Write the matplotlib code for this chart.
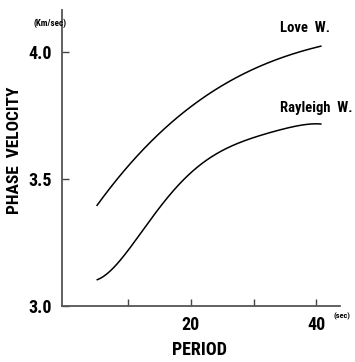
import numpy as np
import matplotlib.pyplot as plt

# curves (period in sec, phase velocity in km/sec)
love_period = [5.06, 9.25, 12.71, 14.58, 17.77, 21.48, 24.15, 29.94, 35.04, 40.73]
love_vel = [3.402, 3.520, 3.614, 3.680, 3.745, 3.811, 3.858, 3.929, 3.980, 4.025]
rayleigh_period = [5.10, 7.13, 9.25, 11.91, 14.58, 16.70, 18.82, 21.48, 22.55,
                   25.20, 27.86, 30.53, 33.17, 35.84, 40.73]
rayleigh_vel = [3.102, 3.144, 3.188, 3.280, 3.378, 3.444, 3.496, 3.548, 3.575,
                3.614, 3.647, 3.669, 3.686, 3.702, 3.717]

xticks = [10, 20, 30, 40]
xtick_labels = ['', '20', '', '40']
yticks = [3.0, 3.5, 4.0]
ytick_labels = ['3.0', '3.5', '4.0']

plt.rcParams['font.family'] = ['Roboto Condensed', 'DejaVu Sans']


def smooth(xs, ys, deg):
    # least squares polynomial through the read points, drawn hand-smooth
    t = np.linspace(xs[0], xs[-1], 300)
    c = np.polyfit(xs, ys, deg)
    return t, np.polyval(c, t)


fig = plt.figure(figsize=(3.55, 3.62), dpi=100)
ax = fig.add_axes([0.1746, 0.1547, 0.7834, 0.8173])

t, v = smooth(love_period, love_vel, 3)
ax.plot(t, v, color='black', lw=1.1)
t, v = smooth(rayleigh_period, rayleigh_vel, 5)
ax.plot(t, v, color='black', lw=1.1)

ax.set_xlim(-0.53, 43.8)
ax.set_ylim(3.0, 4.165)
for s in ['top', 'right']:
    ax.spines[s].set_visible(False)
for s in ['left', 'bottom']:
    ax.spines[s].set_color('#555555')
    ax.spines[s].set_linewidth(1.3)

ax.set_xticks(xticks)
ax.set_xticklabels(xtick_labels)
ax.set_yticks(yticks)
ax.set_yticklabels(ytick_labels)
ax.tick_params(direction='in', length=5, width=1.0, color='#444444',
               labelsize=13, pad=7)
for lab in ax.get_xticklabels() + ax.get_yticklabels():
    lab.set_fontweight('bold')

ax.text(0.016, 4.114, '(Km/sec)', transform=ax.get_yaxis_transform(),
        fontsize=6.5, fontweight='bold', ha='right', va='center')
ax.text(0.975, -0.035, '(sec)', transform=ax.transAxes, fontsize=6,
        fontweight='bold', ha='left', va='center')
ax.text(34.2, 4.094, 'Love  W.', fontsize=10.5, fontweight='bold',
        ha='left', va='center')
ax.text(34.2, 3.78, 'Rayleigh  W.', fontsize=10.5, fontweight='bold',
        ha='left', va='center')

fig.text(0.042, 0.586, 'PHASE  VELOCITY', rotation=90,
         fontsize=12.5, fontweight='bold', ha='center', va='center')
fig.text(0.563, 0.033, 'PERIOD', fontsize=13, fontweight='bold',
         ha='center', va='center')

fig.savefig('out.png', dpi=100)
